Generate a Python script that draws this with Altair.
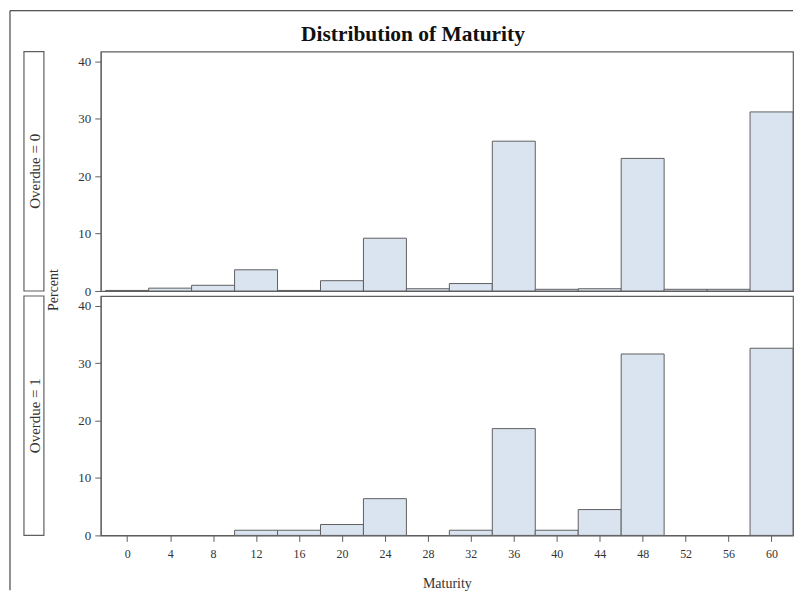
import altair as alt
import pandas as pd

# Bin midpoints (Maturity) and percent per bin for each Overdue group
mids = [0, 4, 8, 12, 16, 20, 24, 28, 32, 36, 40, 44, 48, 52, 56, 60]
pct_overdue0 = [0.1, 0.5, 1.0, 3.7, 0.1, 1.8, 9.2, 0.4, 1.3, 26.1, 0.3, 0.4, 23.1, 0.3, 0.3, 31.2]
pct_overdue1 = [0.0, 0.0, 0.0, 0.9, 0.9, 1.9, 6.4, 0.0, 0.9, 18.6, 0.9, 4.5, 31.6, 0.0, 0.0, 32.6]
x_ticks = mids
y_ticks = [0, 10, 20, 30, 40]

FONT = "Liberation Serif"
W, H = 694, 240
FILL = "#DAE4F1"
EDGE = "#5F5F5F"

xscale = alt.Scale(domain=[-2.46, 62.0], nice=False, zero=False)
yscale = alt.Scale(domain=[0, 41.7], nice=False)


def panel(vals, label, bottom):
    df = pd.DataFrame({"mid": mids, "pct": vals})
    df = df[df["pct"] > 0].copy()
    df["lo"] = df["mid"] - 2
    df["hi"] = df["mid"] + 2
    df["zero"] = 0.0
    if bottom:
        xaxis = alt.Axis(values=x_ticks, title="Maturity", grid=False, tickSize=6,
                         labelPadding=7, titlePadding=17, labelFontSize=12,
                         titleFontSize=14, labelFlush=False)
    else:
        xaxis = None
    bars = alt.Chart(df).mark_rect(fill=FILL, stroke=EDGE, strokeWidth=1).encode(
        x=alt.X("lo:Q", scale=xscale, axis=xaxis),
        x2="hi:Q",
        y=alt.Y("pct:Q", scale=yscale,
                axis=alt.Axis(values=y_ticks, title=None, grid=False, tickSize=6,
                              labelPadding=4, labelFontSize=13)),
        y2="zero:Q",
    )
    box = alt.Chart().mark_rect(fill="white", stroke=EDGE, strokeWidth=1.2).encode(
        x=alt.value(-77), x2=alt.value(-57), y=alt.value(0), y2=alt.value(H)
    )
    txt = alt.Chart().mark_text(text=label, angle=270, font=FONT, fontSize=15,
                                color="#333333", align="center", baseline="middle").encode(
        x=alt.value(-66), y=alt.value(H / 2)
    )
    layers = [box, txt, bars]
    if not bottom:
        title = alt.Chart().mark_text(text="Distribution of Maturity", font=FONT,
                                      fontSize=21.5, fontWeight="bold", color="#111111",
                                      align="center", baseline="middle").encode(
            x=alt.value(313), y=alt.value(-17)
        )
        ytitle = alt.Chart().mark_text(text="Percent", angle=270, font=FONT, fontSize=14,
                                       color="#333333", align="center",
                                       baseline="middle").encode(
            x=alt.value(-47), y=alt.value(H - 1)
        )
        left = alt.Chart().mark_rule(color="#222222", strokeWidth=1).encode(
            x=alt.value(-91), y=alt.value(-41), y2=alt.value(540)
        )
        top = alt.Chart().mark_rule(color="#222222", strokeWidth=1).encode(
            x=alt.value(-91), x2=alt.value(W), y=alt.value(-41)
        )
        layers = [left, top, title, ytitle] + layers
    return alt.layer(*layers).properties(width=W, height=H)


chart = alt.vconcat(
    panel(pct_overdue0, "Overdue = 0", False),
    panel(pct_overdue1, "Overdue = 1", True),
    spacing=5,
    bounds="flush",
).properties(padding=0).configure(font=FONT).configure_view(
    stroke=EDGE, strokeWidth=1.2
).configure_axis(
    domainColor=EDGE, tickColor=EDGE, labelColor="#333333", titleColor="#333333",
    labelFont=FONT, titleFont=FONT, titleFontWeight="normal"
)

chart.save("out.html", embed_options={"renderer": "svg", "actions": False})
